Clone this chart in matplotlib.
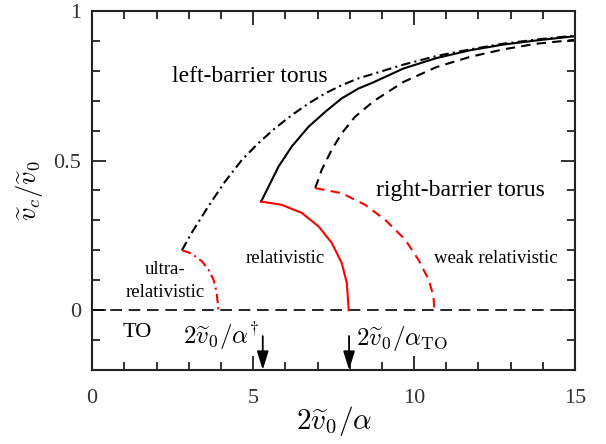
import numpy as np
import matplotlib
matplotlib.use("Agg")
import matplotlib.pyplot as plt
from matplotlib.ticker import MultipleLocator

plt.rcParams['font.family'] = 'serif'
plt.rcParams['font.serif'] = ['Liberation Serif', 'DejaVu Serif']
plt.rcParams['mathtext.fontset'] = 'cm'

# left-barrier torus (dash-dot)
x_left = [2.79, 3.09, 3.61, 4.13, 4.65, 5.16, 5.68, 6.20, 6.72, 7.24, 7.75, 8.27,
          8.70, 9.67, 10.70, 11.74, 12.77, 13.81, 15.0]
y_left = [0.200, 0.258, 0.347, 0.430, 0.502, 0.558, 0.608, 0.652, 0.691, 0.725, 0.752, 0.775,
          0.789, 0.821, 0.850, 0.872, 0.891, 0.905, 0.918]
# relativistic branch (solid)
x_rel = [5.25, 5.48, 5.79, 6.20, 6.72, 7.24, 7.75, 8.27, 8.70, 9.67, 10.70, 11.74,
         12.77, 13.81, 15.0]
y_rel = [0.363, 0.413, 0.480, 0.547, 0.613, 0.663, 0.708, 0.741, 0.760, 0.808, 0.843, 0.869,
         0.888, 0.902, 0.916]
# right-barrier torus (dashed)
x_right = [6.93, 7.13, 7.44, 7.75, 8.17, 8.76, 9.67, 10.70, 11.74, 12.77, 13.81, 15.0]
y_right = [0.408, 0.469, 0.536, 0.591, 0.647, 0.700, 0.763, 0.813, 0.847, 0.872, 0.891, 0.904]

# red boundaries
x_ultra = [2.79, 3.09, 3.41, 3.61, 3.77, 3.87, 3.92]
y_ultra = [0.200, 0.189, 0.163, 0.136, 0.102, 0.058, 0.0]
x_relb = [5.25, 5.89, 6.51, 7.03, 7.44, 7.75, 7.91, 7.97]
y_relb = [0.363, 0.352, 0.325, 0.280, 0.225, 0.158, 0.091, 0.0]
x_weak = [6.93, 7.75, 8.48, 9.10, 9.72, 10.13, 10.45, 10.60, 10.63]
y_weak = [0.408, 0.391, 0.352, 0.302, 0.236, 0.169, 0.102, 0.047, 0.0]

x_to = [0, 15]
y_to = [0, 0]

arrow_x = [5.30, 7.98]

fig = plt.figure(figsize=(6.06, 4.44), dpi=100)
ax = fig.add_axes([0.152, 0.167, 0.797, 0.808])

lw = 1.5
ax.plot(x_to, y_to, color='black', lw=1.2, dashes=(7, 4))
ax.plot(x_left, y_left, color='black', lw=lw, dashes=(4.5, 2, 1, 2))
ax.plot(x_rel, y_rel, color='black', lw=lw)
ax.plot(x_right, y_right, color='black', lw=lw, dashes=(4.5, 3))
ax.plot(x_ultra, y_ultra, color='red', lw=lw, dashes=(4.5, 2, 1, 2))
ax.plot(x_relb, y_relb, color='red', lw=lw)
ax.plot(x_weak, y_weak, color='red', lw=lw, dashes=(4.5, 3))

for xa in arrow_x:
    ax.annotate('', xy=(xa, -0.2), xytext=(xa, -0.087),
                arrowprops=dict(arrowstyle='-|>,head_length=0.8,head_width=0.25',
                                color='black', lw=1.3,
                                mutation_scale=14, shrinkA=0, shrinkB=0))

ax.text(4.91, 0.763, 'left-barrier torus', ha='center', va='baseline', fontsize=17)
ax.text(11.43, 0.38, 'right-barrier torus', ha='center', va='baseline', fontsize=17)
ax.text(5.99, 0.158, 'relativistic', ha='center', va='baseline', fontsize=13.5)
ax.text(12.53, 0.158, 'weak relativistic', ha='center', va='baseline', fontsize=13.5)
ax.text(2.27, 0.119, 'ultra-', ha='center', va='baseline', fontsize=13.5)
ax.text(2.27, 0.043, 'relativistic', ha='center', va='baseline', fontsize=13.5)
ax.text(1.40, -0.089, 'TO', ha='center', va='baseline', fontsize=16)
ax.text(2.83, -0.114, r'$2\widetilde{v}_0/\alpha^{\!\dagger}$', ha='left', va='baseline', fontsize=18)
ax.text(8.20, -0.118, r'$2\widetilde{v}_0/\alpha_{\mathrm{TO}}$', ha='left', va='baseline', fontsize=18)

ax.set_xlim(0, 15)
ax.set_ylim(-0.2, 1)
ax.set_xticks([0, 5, 10, 15])
ax.set_xticklabels(['0', '5', '10', '15'])
ax.set_yticks([0, 0.5, 1])
ax.set_yticklabels(['0', '0.5', '1'])
ax.xaxis.set_minor_locator(MultipleLocator(1))
ax.yaxis.set_minor_locator(MultipleLocator(0.1))
ax.tick_params(which='both', direction='in', top=True, right=True, width=1.3,
               labelsize=16, colors='#222222', labelcolor='#333333')
ax.tick_params(which='major', length=10)
ax.tick_params(axis='y', which='major', pad=8)
ax.tick_params(axis='x', which='major', pad=14)
ax.tick_params(which='minor', length=6)
for s in ax.spines.values():
    s.set_linewidth(1.5)
    s.set_color('#222222')

ax.set_xlabel(r'$2\widetilde{v}_0/\alpha$', fontsize=21, labelpad=-3)
ax.set_ylabel(r'$\widetilde{v}_c/\widetilde{v}_0$', fontsize=19, labelpad=6)

fig.savefig('out.png', dpi=100)
